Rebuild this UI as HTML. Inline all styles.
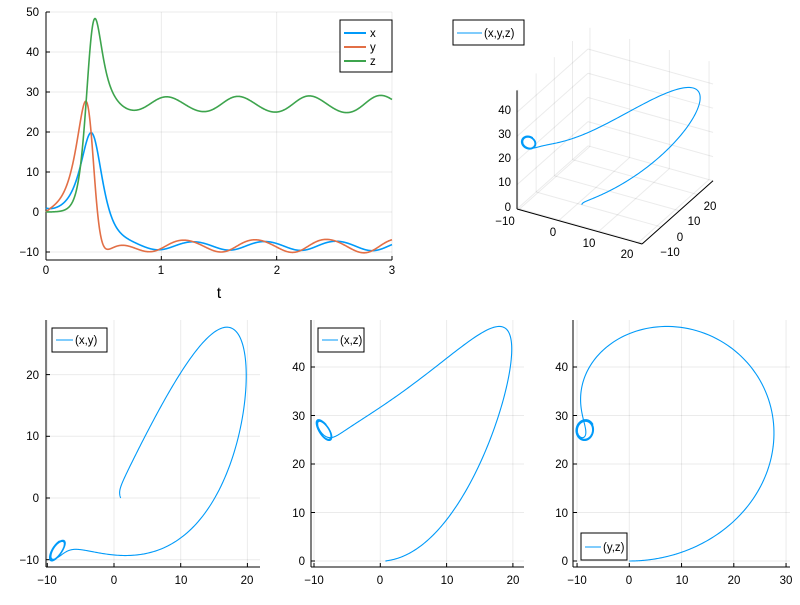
<!DOCTYPE html>
<html><head><meta charset="utf-8"><style>
body{margin:0;background:#fff}
svg text{font-family:"Liberation Sans",sans-serif;font-size:11.5px;fill:#000}
</style></head><body>
<svg id="s" width="800" height="600" xmlns="http://www.w3.org/2000/svg">
<g id="grid" stroke="#000" stroke-opacity="0.08" stroke-width="1" fill="none"></g>
<g id="axes" stroke="#000" stroke-width="1" fill="none"></g>
<g id="lines" fill="none"></g>
<g text-anchor="end">
<text x="39" y="16">50</text><text x="39" y="96">30</text><text x="39" y="56">40</text>
<text x="39" y="136">20</text><text x="39" y="176">10</text><text x="39" y="216">0</text><text x="39" y="256">−10</text>
</g>
<g text-anchor="middle">
<text x="46" y="274">0</text><text x="161" y="274">1</text><text x="277" y="274">2</text><text x="392" y="274">3</text>
<text x="219" y="298" style="font-size:16px">t</text>
</g>
<rect x="340" y="20" width="52" height="52" fill="#fff" stroke="#000"/>
<line x1="344" y1="33" x2="366" y2="33" stroke="#009af9" stroke-width="2"/><text x="370" y="37">x</text>
<line x1="344" y1="47" x2="366" y2="47" stroke="#e26f46" stroke-width="2"/><text x="370" y="51">y</text>
<line x1="344" y1="61" x2="366" y2="61" stroke="#3da44d" stroke-width="2"/><text x="370" y="65">z</text>
<rect x="453" y="20" width="71" height="25" fill="#fff" stroke="#000"/>
<line x1="457" y1="33" x2="482" y2="33" stroke="#009af9"/><text x="484" y="37">(x,y,z)</text>
<g text-anchor="end">
<text x="511" y="114">40</text><text x="511" y="138">30</text><text x="511" y="162">20</text><text x="511" y="186">10</text><text x="511" y="211">0</text>
</g>
<g text-anchor="middle">
<text x="505" y="225">−10</text><text x="553" y="236">0</text><text x="589" y="247">10</text><text x="627" y="258">20</text>
<text x="670" y="256">−10</text><text x="680" y="241">0</text><text x="694" y="225">10</text><text x="710" y="210">20</text>
</g>
<g text-anchor="end">
<text x="39" y="379">20</text><text x="39" y="440">10</text><text x="39" y="502">0</text><text x="39" y="564">−10</text>
</g>
<g text-anchor="middle">
<text x="47" y="584">−10</text><text x="114" y="584">0</text><text x="181" y="584">10</text><text x="247" y="584">20</text>
</g>
<rect x="52" y="328" width="55" height="24" fill="#fff" stroke="#000"/>
<line x1="56" y1="340" x2="73" y2="340" stroke="#009af9"/><text x="75" y="344">(x,y)</text>
<g text-anchor="end">
<text x="305" y="371">40</text><text x="305" y="420">30</text><text x="305" y="468">20</text><text x="305" y="517">10</text><text x="305" y="565">0</text>
</g>
<g text-anchor="middle">
<text x="314" y="584">−10</text><text x="380" y="584">0</text><text x="447" y="584">10</text><text x="513" y="584">20</text>
</g>
<rect x="318" y="328" width="46" height="24" fill="#fff" stroke="#000"/>
<line x1="322" y1="340" x2="338" y2="340" stroke="#009af9"/><text x="340" y="344">(x,z)</text>
<g text-anchor="end">
<text x="568" y="371">40</text><text x="568" y="420">30</text><text x="568" y="468">20</text><text x="568" y="517">10</text><text x="568" y="565">0</text>
</g>
<g text-anchor="middle">
<text x="577" y="584">−10</text><text x="629" y="584">0</text><text x="682" y="584">10</text><text x="734" y="584">20</text><text x="786" y="584">30</text>
</g>
<rect x="581" y="533" width="46" height="27" fill="#fff" stroke="#000"/>
<line x1="585" y1="547" x2="601" y2="547" stroke="#009af9"/><text x="603" y="551">(y,z)</text>
</svg>
<script>
var NS="http://www.w3.org/2000/svg";
function el(g,tag,a){var e=document.createElementNS(NS,tag);for(var k in a)e.setAttribute(k,a[k]);document.getElementById(g).appendChild(e);return e;}
function L(g,x1,y1,x2,y2){el(g,'line',{x1:x1,y1:y1,x2:x2,y2:y2});}
var s=10,r=28,b=8/3,h=0.0005,st=[1,0,0],pts=[[0,1,0,0]];
function f(v){return[s*(v[1]-v[0]),v[0]*(r-v[2])-v[1],v[0]*v[1]-b*v[2]];}
for(var i=1;i<=6000;i++){var v=st,k1=f(v),k2=f(v.map((q,j)=>q+h/2*k1[j])),k3=f(v.map((q,j)=>q+h/2*k2[j])),k4=f(v.map((q,j)=>q+h*k3[j]));
st=v.map((q,j)=>q+h/6*(k1[j]+2*k2[j]+2*k3[j]+k4[j]));if(i%4==0)pts.push([i*h,st[0],st[1],st[2]]);}
function path(fx,fy,col,w){var d='';pts.forEach((p,i)=>{d+=(i?'L':'M')+fx(p).toFixed(2)+' '+fy(p).toFixed(2);});el('lines','path',{d:d,stroke:col,'stroke-width':w});}
var tx=t=>46+t*115.33,ty=v=>212-v*4;
for(var t=1;t<=3;t++)L('grid',tx(t),12,tx(t),260);
[-10,0,10,20,30,40,50].forEach(v=>L('grid',46,ty(v),392,ty(v)));
L('axes',46,12,46,260);L('axes',46,260,392,260);
[-10,0,10,20,30,40,50].forEach(v=>L('axes',46,ty(v),50,ty(v)));
[0,1,2,3].forEach(t=>L('axes',tx(t),260,tx(t),256));
path(p=>tx(p[0]),p=>ty(p[1]),'#009af9',1.6);
path(p=>tx(p[0]),p=>ty(p[2]),'#e26f46',1.6);
path(p=>tx(p[0]),p=>ty(p[3]),'#3da44d',1.6);
function P(x,y,z){return[517+(x+10.5)*3.97+(y+10.5)*1.82,209+(x+10.5)*1.11-(y+10.5)*1.62-z*2.42];}
var X0=-10.5,X1=21,Y0=-10.5,Y1=28.5,Z1=49;
[-10,0,10,20].forEach(x=>{var a=P(x,Y0,0),c=P(x,Y1,0),d=P(x,Y1,Z1);L('grid',a[0],a[1],c[0],c[1]);L('grid',c[0],c[1],d[0],d[1]);});
[-10,0,10,20].forEach(y=>{var a=P(X0,y,0),c=P(X1,y,0),d=P(X0,y,Z1);L('grid',a[0],a[1],c[0],c[1]);L('grid',a[0],a[1],d[0],d[1]);});
[0,10,20,30,40].forEach(z=>{var a=P(X0,Y0,z),c=P(X0,Y1,z),d=P(X1,Y1,z);L('grid',a[0],a[1],c[0],c[1]);L('grid',c[0],c[1],d[0],d[1]);});
var a=P(X0,Y0,0),c=P(X1,Y0,0),d=P(X1,Y1,0),e=P(X0,Y0,Z1);
L('axes',a[0],a[1],c[0],c[1]);L('axes',c[0],c[1],d[0],d[1]);L('axes',a[0],a[1],e[0],e[1]);
path(p=>P(p[1],p[2],p[3])[0],p=>P(p[1],p[2],p[3])[1],'#009af9',1.1);
function frame(x0,x1,y0,y1,xt,yt,fx,fy){xt.forEach(v=>{L('grid',fx(v),y0,fx(v),y1);L('axes',fx(v),y1,fx(v),y1-4);});
yt.forEach(v=>{L('grid',x0,fy(v),x1,fy(v));L('axes',x0,fy(v),x0+4,fy(v));});L('axes',x0,y0,x0,y1);L('axes',x0,y1,x1,y1);}
var ax=v=>114+v*6.67,ay=v=>498-v*6.17;
frame(46,260,320,567,[-10,0,10,20],[-10,0,10,20],ax,ay);
path(p=>ax(p[1]),p=>ay(p[2]),'#009af9',1.1);
var bx=v=>380.3+v*6.63,bz=v=>561-v*4.85;
frame(311,524,320,567,[-10,0,10,20],[0,10,20,30,40],bx,bz);
path(p=>bx(p[1]),p=>bz(p[3]),'#009af9',1.1);
var cx=v=>629.3+v*5.225;
frame(573,790,320,567,[-10,0,10,20,30],[0,10,20,30,40],cx,bz);
path(p=>cx(p[2]),p=>bz(p[3]),'#009af9',1.1);
</script>
</body></html>
